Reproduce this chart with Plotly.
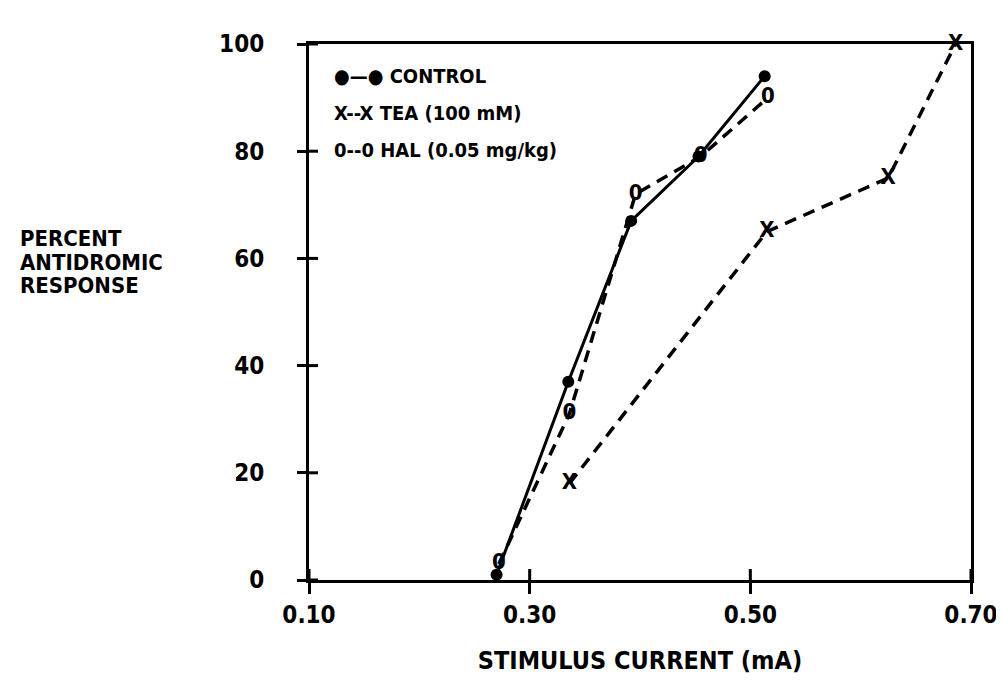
import plotly.graph_objects as go

# ---- data ----
control_x = [0.27, 0.335, 0.392, 0.453, 0.513]
control_y = [1, 37, 67, 79, 94]

tea_x = [0.336, 0.515, 0.625, 0.686]
tea_y = [18, 65, 75, 100]

hal_x = [0.272, 0.336, 0.396, 0.455, 0.516]
hal_y = [3, 31, 72, 79, 90]

x_ticks = [0.10, 0.30, 0.50, 0.70]
x_tick_labels = ["0.10", "0.30", "0.50", "0.70"]
y_ticks = [0, 20, 40, 60, 80, 100]
y_tick_labels = ["0", "20", "40", "60", "80", "100"]

legend_labels = ["●—● CONTROL", "X--X TEA (100 mM)", "0--0 HAL (0.05 mg/kg)"]
y_title_lines = ["PERCENT", "ANTIDROMIC", "RESPONSE"]

FONT = "DejaVu Sans Condensed, Liberation Sans Narrow, Arial Narrow, sans-serif"

# figure geometry (page has an 8px body margin)
W, H = 1004, 689
L, R, T, B = 301, 41, 36, 117
PW, PH = W - L - R, H - T - B
XTICK_IN, YTICK_IN = 11, 9


def px_x(fx):
    return (fx - L) / PW


def px_y(fy):
    return (H - B - fy) / PH


fig = go.Figure()

dash = "12px,8px"

fig.add_trace(go.Scatter(
    x=tea_x, y=tea_y, mode="lines+text", text=["X"] * len(tea_x),
    textposition="middle center", cliponaxis=False,
    textfont=dict(family=FONT, size=22, color="black", weight="bold"),
    line=dict(color="black", width=3.5, dash=dash),
    showlegend=False))

fig.add_trace(go.Scatter(
    x=hal_x, y=hal_y, mode="lines+text", text=["0"] * len(hal_x),
    textposition="middle center", cliponaxis=False,
    textfont=dict(family=FONT, size=22, color="black", weight="bold"),
    line=dict(color="black", width=3.5, dash=dash),
    showlegend=False))

fig.add_trace(go.Scatter(
    x=control_x, y=control_y, mode="lines+markers", cliponaxis=False,
    line=dict(color="black", width=3),
    marker=dict(color="black", size=12, symbol="circle"),
    showlegend=False))

# inward halves of the crossing tick marks
for v in x_ticks:
    fig.add_shape(type="line", xref="x", yref="paper", x0=v, x1=v,
                  y0=0, y1=XTICK_IN / PH, line=dict(color="black", width=3))
for v in y_ticks:
    fig.add_shape(type="line", xref="paper", yref="y", x0=0, x1=YTICK_IN / PW,
                  y0=v, y1=v, line=dict(color="black", width=3))

legend_rows_fy = [68, 105, 142]
for lab, fy in zip(legend_labels, legend_rows_fy):
    fig.add_annotation(
        x=px_x(324), y=px_y(fy), xref="paper", yref="paper",
        xanchor="left", yanchor="middle", showarrow=False, text=lab,
        font=dict(family=FONT, size=20, color="black", weight="bold"))

title_rows_fy = [230, 254, 277]
for lab, fy in zip(y_title_lines, title_rows_fy):
    fig.add_annotation(
        x=px_x(10), y=px_y(fy), xref="paper", yref="paper",
        xanchor="left", yanchor="middle", showarrow=False, text=lab,
        font=dict(family=FONT, size=22, color="black", weight="bold"))

axis_common = dict(showgrid=False, zeroline=False, linecolor="black",
                   linewidth=3, tickcolor="black", tickwidth=3)

fig.update_layout(
    width=W, height=H,
    margin=dict(l=L, r=R, t=T, b=B),
    plot_bgcolor="white", paper_bgcolor="white",
    font=dict(family=FONT, color="black"),
    xaxis=dict(range=[0.1, 0.7], tickvals=x_ticks, ticktext=x_tick_labels,
               ticks="outside", ticklen=11, mirror=True,
               tickfont=dict(family=FONT, size=24, color="black", weight="bold"),
               title=dict(text="STIMULUS CURRENT (mA)", standoff=24,
                          font=dict(family=FONT, size=25, color="black", weight="bold")),
               **axis_common),
    yaxis=dict(range=[0, 100], tickvals=y_ticks, ticktext=y_tick_labels,
               ticks="outside", ticklen=9, mirror=True, ticklabelstandoff=28,
               tickfont=dict(family=FONT, size=24, color="black", weight="bold"),
               **axis_common),
)

fig.write_html("out.html")
